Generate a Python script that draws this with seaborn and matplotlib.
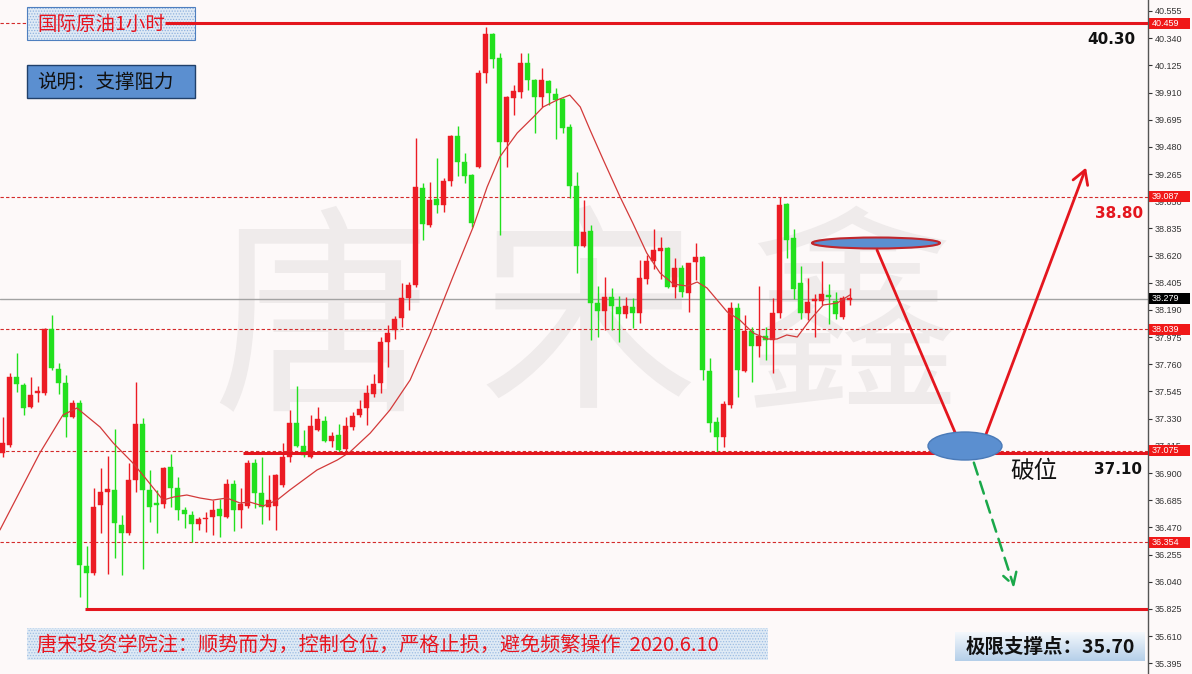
import numpy as np
import pandas as pd
import matplotlib
matplotlib.use("Agg")
import matplotlib.pyplot as plt
import matplotlib.transforms as mtransforms
from matplotlib.patches import Rectangle, Ellipse, FancyArrowPatch, ArrowStyle
import seaborn as sns

# ---------------- hourly WTI candles (Chinese convention: red = up, green = down) -------------
opens = [37.058, 37.122, 37.660, 37.596, 37.422, 37.533, 37.533, 38.039, 37.723, 37.612,
         37.343, 37.454, 36.164, 36.109, 36.647, 36.750, 36.766, 36.489, 36.425, 36.845,
         37.288, 36.766, 36.663, 36.655, 36.948, 36.781, 36.607, 36.568, 36.497, 36.536,
         36.552, 36.615, 36.552, 36.813, 36.607, 36.639, 36.979, 36.742, 36.631, 36.639,
         36.805, 37.027, 37.296, 37.114, 37.027, 37.240, 37.311, 37.153, 37.201, 37.090,
         37.264, 37.359, 37.414, 37.525, 37.612, 37.936, 38.031, 38.126, 38.285, 38.387,
         39.155, 38.862, 39.068, 39.020, 39.210, 39.566, 39.360, 39.258, 39.321, 40.065,
         40.373, 40.183, 39.519, 39.867, 39.914, 40.144, 40.009, 39.875, 40.001, 39.898,
         39.859, 39.637, 39.171, 38.696, 38.815, 38.245, 38.182, 38.293, 38.213, 38.158,
         38.213, 38.166, 38.435, 38.577, 38.656, 38.680, 38.372, 38.522, 38.324, 38.569,
         38.609, 37.707, 37.304, 37.185, 37.438, 38.205, 37.707, 38.023, 37.905, 37.984,
         37.952, 38.166, 39.028, 38.759, 38.403, 38.166, 38.261, 38.261, 38.308, 38.261,
         38.134, 38.270]
highs = [37.343, 37.691, 37.849, 37.612, 37.660, 37.588, 38.047, 38.150, 37.770, 37.675,
         37.478, 37.478, 36.323, 36.781, 36.940, 37.035, 37.248, 36.568, 36.979, 37.620,
         37.335, 36.924, 36.766, 36.948, 37.050, 36.869, 36.631, 36.600, 36.552, 36.592,
         36.686, 36.694, 36.853, 36.845, 36.781, 37.003, 37.011, 37.027, 36.884, 36.892,
         37.137, 37.399, 37.588, 37.240, 37.359, 37.422, 37.351, 37.224, 37.288, 37.343,
         37.383, 37.478, 37.596, 37.683, 37.976, 38.071, 38.142, 38.403, 38.411, 39.550,
         39.194, 39.202, 39.392, 39.234, 39.574, 39.645, 39.432, 39.265, 40.088, 40.430,
         40.381, 40.223, 39.883, 39.970, 40.223, 40.223, 40.017, 40.104, 40.009, 39.946,
         39.867, 39.661, 39.281, 39.060, 38.862, 38.379, 38.451, 38.364, 38.300, 38.293,
         38.285, 38.585, 38.625, 38.830, 38.767, 38.688, 38.601, 38.546, 38.561, 38.720,
         38.617, 37.810, 37.343, 37.470, 38.253, 38.245, 38.150, 38.055, 38.379, 38.055,
         38.285, 39.087, 39.036, 38.830, 38.538, 38.443, 38.316, 38.577, 38.395, 38.332,
         38.300, 38.364]
lows = [37.027, 37.106, 37.541, 37.359, 37.414, 37.462, 37.517, 37.715, 37.525, 37.185,
        37.335, 35.919, 35.830, 36.093, 36.425, 36.101, 36.228, 36.093, 36.410, 36.750,
        36.141, 36.513, 36.425, 36.623, 36.631, 36.528, 36.465, 36.354, 36.449, 36.433,
        36.410, 36.394, 36.544, 36.441, 36.465, 36.623, 36.623, 36.497, 36.528, 36.449,
        36.789, 36.987, 37.106, 37.027, 37.019, 37.232, 37.145, 37.106, 37.066, 37.066,
        37.240, 37.343, 37.280, 37.501, 37.533, 37.739, 37.960, 38.055, 38.190, 38.372,
        38.743, 38.846, 38.957, 38.965, 39.171, 39.250, 39.194, 38.846, 39.313, 39.985,
        40.104, 38.783, 39.321, 39.732, 39.867, 39.930, 39.590, 39.796, 39.811, 39.542,
        39.590, 39.076, 38.482, 38.688, 37.952, 37.976, 38.031, 38.031, 37.937, 38.126,
        38.047, 38.087, 38.395, 38.514, 38.435, 38.364, 38.285, 38.293, 38.174, 38.427,
        37.636, 37.224, 37.070, 37.106, 37.414, 37.501, 37.699, 37.620, 37.818, 37.794,
        37.691, 38.126, 38.601, 38.277, 38.118, 38.111, 37.976, 38.229, 38.079, 38.118,
        38.118, 38.229]
closes = [37.137, 37.660, 37.604, 37.414, 37.517, 37.549, 38.039, 37.731, 37.612, 37.343,
          37.454, 36.172, 36.109, 36.631, 36.750, 36.770, 36.505, 36.425, 36.845, 37.288,
          36.766, 36.631, 36.647, 36.940, 36.781, 36.607, 36.576, 36.497, 36.536, 36.548,
          36.607, 36.560, 36.813, 36.607, 36.655, 36.979, 36.742, 36.631, 36.686, 36.884,
          37.027, 37.296, 37.114, 37.043, 37.272, 37.327, 37.153, 37.193, 37.082, 37.272,
          37.351, 37.406, 37.533, 37.604, 37.936, 38.008, 38.118, 38.285, 38.387, 39.163,
          38.870, 39.060, 39.020, 39.210, 39.566, 39.360, 39.250, 38.878, 40.065, 40.373,
          40.175, 39.519, 39.875, 39.922, 40.144, 40.009, 39.875, 40.009, 39.906, 39.851,
          39.629, 39.171, 38.696, 38.807, 38.245, 38.182, 38.293, 38.221, 38.158, 38.221,
          38.166, 38.443, 38.577, 38.664, 38.680, 38.372, 38.522, 38.332, 38.561, 38.609,
          37.715, 37.296, 37.185, 37.446, 38.205, 37.715, 38.023, 37.905, 37.984, 37.952,
          38.166, 39.020, 38.743, 38.356, 38.166, 38.253, 38.277, 38.316, 38.293, 38.158,
          38.285, 38.279]

# moving-average line (bar index, price)
ma_idx = [-0.4, 5.3, 8.6, 10.6, 13.9, 15.8, 18.6, 20.6, 22.9, 24.4, 26.3, 28.2, 30.0,
          32.0, 33.9, 35.3, 37.2, 39.2, 41.0, 44.9, 47.8, 49.6, 52.5, 55.3, 58.2, 61.0,
          64.3, 67.2, 69.2, 71.0, 73.5, 75.8, 77.2, 79.2, 81.0, 82.5, 83.9, 85.8, 88.2,
          90.0, 92.0, 93.9, 95.8, 97.8, 99.2, 100.6, 103.5, 105.3, 107.2, 109.2, 110.6,
          112.0, 113.5, 115.3, 117.2, 119.2, 121.0]
ma_val = [36.449, 37.058, 37.359, 37.414, 37.264, 37.137, 36.979, 36.845, 36.686, 36.710,
          36.726, 36.702, 36.686, 36.702, 36.663, 36.670, 36.639, 36.686, 36.765, 36.924,
          37.003, 37.066, 37.216, 37.398, 37.636, 37.992, 38.451, 38.846, 39.163, 39.400,
          39.590, 39.716, 39.796, 39.851, 39.890, 39.796, 39.614, 39.376, 39.083, 38.878,
          38.640, 38.482, 38.395, 38.379, 38.411, 38.364, 38.174, 38.110, 38.008, 37.960,
          37.960, 37.992, 37.976, 38.110, 38.229, 38.245, 38.308]

# price scale
tick_values = [40.555, 40.340, 40.125, 39.910, 39.695, 39.480, 39.265, 39.050, 38.835,
               38.620, 38.405, 38.190, 37.975, 37.760, 37.545, 37.330, 37.115, 36.900,
               36.685, 36.470, 36.255, 36.040, 35.825, 35.610, 35.395]
level_values = [40.459, 39.087, 38.039, 37.075, 36.354]   # dotted key levels
last_price = 38.279
# drawn support / resistance lines: (price, first bar)
trend_levels = [(37.060, 34.3), (35.825, 11.8)]
top_level = (40.459, 23.2)

# ---------------- style ----------------
sns.set_theme(style="white")
plt.rcParams["font.family"] = ["Noto Sans CJK SC", "DejaVu Sans"]
plt.rcParams["hatch.linewidth"] = 0.6

BG = "#fdf9f9"
RED = "#ec1c24"
GREEN = "#22e01e"
W, H = 1192, 674

fig = plt.figure(figsize=(W / 100, H / 100), dpi=100, facecolor=BG)
ax = fig.add_axes([0, 0, 1148 / W, 1])
ax.set_facecolor(BG)
XMAX = 163.6
ax.set_xlim(-0.386, XMAX)
ax.set_ylim(35.310, 40.642)

# pixel-space transform (origin top-left) for panels and drawings
pix = mtransforms.Affine2D().scale(1 / W, -1 / H).translate(0, 1) + fig.transFigure

# watermark
for ch, (cx, cy) in zip("唐宋鑫", [(322, 330), (588, 328), (852, 330)]):
    ax.text(cx, cy, ch, transform=pix, fontsize=158, color="#efebeb",
            ha="center", va="center", zorder=0.2)

# key levels
for v in level_values:
    ax.axhline(v, color="#d42a2a", lw=0.8, ls=(0, (3, 2)), zorder=1)
ax.axhline(last_price, color="#a3a3a3", lw=1.0, zorder=1)

# candles
df = pd.DataFrame({"o": opens, "h": highs, "l": lows, "c": closes})
df["i"] = np.arange(len(df))
up = df["c"] >= df["o"]
colors = np.where(up, RED, GREEN)
ax.vlines(df["i"], df["l"], df["h"], colors=colors, lw=1.0, zorder=3)
body = (df["c"] - df["o"]).abs().clip(lower=0.012)
ax.bar(df["i"], body, bottom=df[["o", "c"]].min(axis=1), width=0.72,
       color=colors, edgecolor=colors, linewidth=0.3, zorder=4)

# moving average
sns.lineplot(x=ma_idx, y=ma_val, ax=ax, color="#d33a3a", lw=0.9, zorder=5,
             estimator=None, sort=False)

# axis styling
for s in ["left", "top", "bottom"]:
    ax.spines[s].set_visible(False)
ax.spines["right"].set_color("#555555")
ax.spines["right"].set_linewidth(1.0)
ax.set_xticks([])
ax.yaxis.tick_right()
ax.set_yticks(tick_values)
ax.set_yticklabels([f"{v:.3f}" for v in tick_values], family="Liberation Sans")
ax.tick_params(axis="y", direction="out", length=3, width=0.8, pad=2,
               labelsize=6.5, colors="#333333", right=True, left=False)

# value tags on the price scale
def ytag(v, fc):
    y = ax.transData.transform((0, v))[1]
    ypx = H - y
    ax.add_patch(Rectangle((1149, ypx - 5.5), 41, 11, transform=pix, fc=fc,
                           ec="none", clip_on=False, zorder=6))
    ax.text(1152, ypx, f"{v:.3f}", transform=pix, color="white", fontsize=6.5,
            family="Liberation Sans", ha="left", va="center", clip_on=False, zorder=7)

for v in level_values:
    ytag(v, "#f01818")
ytag(last_price, "#000000")

# drawn support lines
for v, x0 in trend_levels:
    ax.hlines(v, x0, XMAX, color="#e4161e", lw=2.2, zorder=8)

# top-left title panel
ax.add_patch(Rectangle((27, 7), 168, 33, transform=pix, fc="#dfeaf5", ec="#8fb2de",
                       hatch="......", lw=0, zorder=7))
ax.add_patch(Rectangle((27, 7), 168, 33, transform=pix, fill=False, ec="#4f7fbf",
                       lw=0.8, zorder=7))
ax.hlines(top_level[0], top_level[1], XMAX, color="#e4161e", lw=2.2, zorder=8)
ax.text(37, 24, "国际原油1小时", transform=pix, color="#e8141e", fontsize=14,
        ha="left", va="center", zorder=9)

ax.add_patch(Rectangle((27, 65), 168, 33, transform=pix, fc="#5b8fd0", ec="#20406a",
                       lw=1.0, zorder=7))
ax.text(37, 82, "说明：支撑阻力", transform=pix, color="#111111", fontsize=14,
        ha="left", va="center", zorder=9)

# bottom note panel
ax.add_patch(Rectangle((27, 628), 741, 32, transform=pix, fc="#dfeaf5", ec="#9dbde3",
                       hatch="......", lw=0, zorder=7))
ax.text(37, 645, "唐宋投资学院注：顺势而为，控制仓位，严格止损，避免频繁操作  2020.6.10",
        transform=pix, color="#e8141e", fontsize=14.5, ha="left", va="center", zorder=9)

# scenario drawing
ax.add_patch(Ellipse((876, 243), 128, 11, transform=pix, fc="#5b8fd0", ec="#c0262c",
                     lw=1.5, zorder=10))
ax.plot([877, 957], [250, 437], transform=pix, color="#e4161e", lw=2.0, zorder=9)
ax.add_patch(FancyArrowPatch((985, 437), (1087, 165), transform=pix,
                             arrowstyle=ArrowStyle("->", head_length=0.6, head_width=0.35),
                             mutation_scale=16, color="#e4161e", lw=2.0, zorder=9))
ax.add_patch(FancyArrowPatch((973, 460), (1015, 590), transform=pix,
                             arrowstyle=ArrowStyle("->", head_length=0.6, head_width=0.35),
                             mutation_scale=14, color="#1aa84a", lw=1.8, ls=(0, (5, 3)),
                             zorder=9))
ax.add_patch(Ellipse((965, 446), 74, 28, transform=pix, fc="#5b8fd0", ec="#4a7ab8",
                     lw=1.0, zorder=10))

ax.text(1135, 40, "40.30", transform=pix, color="#111111", fontsize=11,
        fontweight="bold", family="DejaVu Sans", ha="right", va="center", zorder=9)
ax.text(1143, 213, "38.80", transform=pix, color="#e4161e", fontsize=11,
        fontweight="bold", family="DejaVu Sans", ha="right", va="center", zorder=9)
ax.text(1142, 470, "37.10", transform=pix, color="#111111", fontsize=11,
        fontweight="bold", family="DejaVu Sans", ha="right", va="center", zorder=9)
ax.text(1034, 472, "破位", transform=pix, color="#111111", fontsize=17,
        ha="center", va="center", zorder=9)

# extreme-support panel with soft vertical gradient
gax = fig.add_axes([955 / W, 1 - 661 / H, 190 / W, 29 / H])
grad = np.linspace(0, 1, 64).reshape(-1, 1)
cmap = matplotlib.colors.LinearSegmentedColormap.from_list("panel", ["#f4f8fc", "#b5cfe9"])
gax.imshow(grad, aspect="auto", cmap=cmap, extent=[0, 1, 1, 0])
gax.set_axis_off()
fig.text(1050 / W, 1 - 647 / H, "极限支撑点：35.70", color="#111111", fontsize=14,
         fontweight="bold", ha="center", va="center")

fig.savefig("out.png", dpi=100, facecolor=BG)
